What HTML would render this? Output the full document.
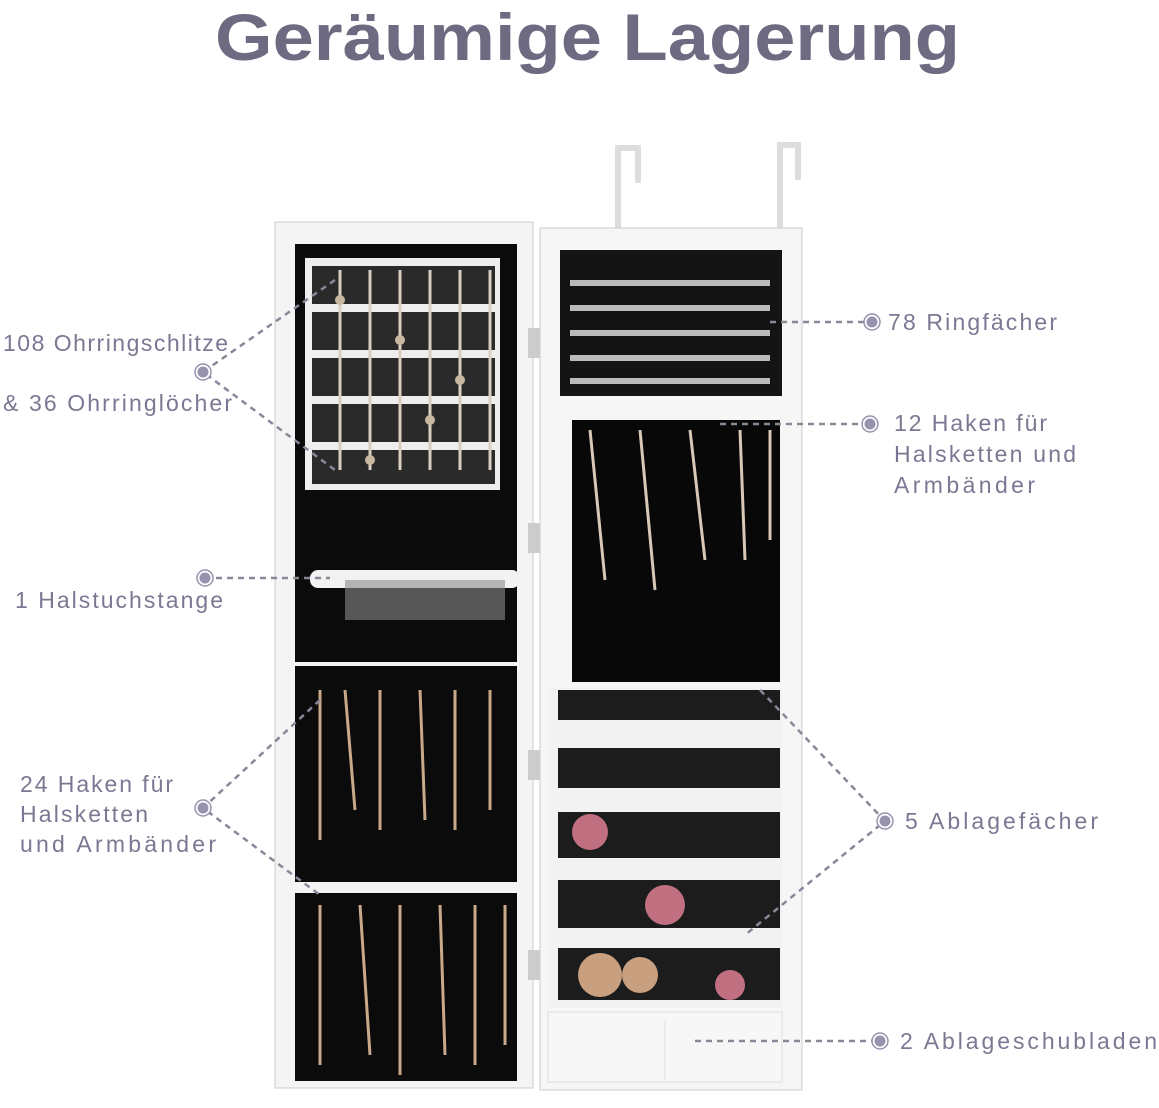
<!DOCTYPE html>
<html><head><meta charset="utf-8"><style>
body{margin:0;background:#fff;}
svg{display:block;font-family:"Liberation Sans",sans-serif;}
</style></head><body>
<svg width="1159" height="1108" viewBox="0 0 1159 1108">
<text x="215" y="60" font-size="66" font-weight="bold" fill="#6e6a82" textLength="745" lengthAdjust="spacingAndGlyphs">Geräumige Lagerung</text>
<path d="M618 250 V148 h20 v35" stroke="#ddd" stroke-width="6" fill="none"/>
<path d="M780 250 V145 h18 v35" stroke="#ddd" stroke-width="6" fill="none"/>
<rect x="275" y="222" width="258" height="866" fill="#f4f4f4" stroke="#ccc"/>
<rect x="295" y="244" width="222" height="418" fill="#0b0b0b"/>
<rect x="305" y="258" width="195" height="232" fill="#eee"/>
<g fill="#2a2a2a"><rect x="312" y="266" width="183" height="38"/><rect x="312" y="312" width="183" height="38"/><rect x="312" y="358" width="183" height="38"/><rect x="312" y="404" width="183" height="38"/><rect x="312" y="450" width="183" height="34"/></g>
<g stroke="#d8cfc0" stroke-width="3" fill="none"><path d="M340 270 v200 M370 270 v200 M400 270 v200 M430 270 v200 M460 270 v200 M490 270 v200"/></g>
<g fill="#c9b8a0"><circle cx="340" cy="300" r="5"/><circle cx="400" cy="340" r="5"/><circle cx="460" cy="380" r="5"/><circle cx="430" cy="420" r="5"/><circle cx="370" cy="460" r="5"/></g>
<rect x="310" y="570" width="210" height="18" rx="8" fill="#f2f2f2"/>
<rect x="345" y="580" width="160" height="40" fill="#8a8a8a" opacity=".6"/>
<rect x="295" y="666" width="222" height="216" fill="#0b0b0b"/>
<rect x="295" y="893" width="222" height="188" fill="#0b0b0b"/>
<g stroke="#c9a98a" stroke-width="3" fill="none"><path d="M320 690 v150 M345 690 l10 120 M380 690 v140 M420 690 l5 130 M455 690 v140 M490 690 v120"/><path d="M320 905 v160 M360 905 l10 150 M400 905 v170 M440 905 l5 150 M475 905 v160 M505 905 v140"/></g>
<g fill="#ccc"><rect x="528" y="328" width="22" height="30"/><rect x="528" y="523" width="22" height="30"/><rect x="528" y="750" width="22" height="30"/><rect x="528" y="950" width="22" height="30"/></g>
<rect x="540" y="228" width="262" height="862" fill="#f6f6f6" stroke="#ccc"/>
<rect x="560" y="250" width="222" height="146" fill="#141414"/>
<g fill="#bbb"><rect x="570" y="280" width="200" height="6"/><rect x="570" y="305" width="200" height="6"/><rect x="570" y="330" width="200" height="6"/><rect x="570" y="355" width="200" height="6"/><rect x="570" y="378" width="200" height="6"/></g>
<rect x="572" y="420" width="208" height="262" fill="#080808"/>
<g stroke="#d8c8b8" stroke-width="3" fill="none"><path d="M590 430 l15 150 M640 430 l15 160 M690 430 l15 130 M740 430 l5 130 M770 430 v110"/></g>
<rect x="548" y="688" width="234" height="320" fill="#f2f2f2"/>
<g fill="#1c1c1c"><rect x="558" y="690" width="222" height="30"/><rect x="558" y="748" width="222" height="40"/><rect x="558" y="812" width="222" height="46"/><rect x="558" y="880" width="222" height="48"/><rect x="558" y="948" width="222" height="52"/></g>
<g fill="#c07080"><circle cx="590" cy="832" r="18"/><circle cx="665" cy="905" r="20"/><circle cx="730" cy="985" r="15"/></g>
<g fill="#c8a080"><circle cx="600" cy="975" r="22"/><circle cx="640" cy="975" r="18"/></g>
<rect x="548" y="1012" width="234" height="70" fill="#f7f7f7" stroke="#ddd"/>
<line x1="665" y1="1020" x2="665" y2="1080" stroke="#ddd"/>
<g stroke="#8a8898" stroke-width="2.5" stroke-dasharray="6,5" fill="none">
<path d="M335 280 L203 372 L335 470"/>
<path d="M770 322 H872"/>
<path d="M720 424 H870"/>
<path d="M205 578 H330"/>
<path d="M320 700 L203 808 L320 895"/>
<path d="M760 690 L885 821 L745 935"/>
<path d="M695 1041 H880"/>
</g>
<g fill="#fff" stroke="#9892ae" stroke-width="1.5">
<circle cx="203" cy="372" r="8"/><circle cx="872" cy="322" r="8"/><circle cx="870" cy="424" r="8"/><circle cx="205" cy="578" r="8"/><circle cx="203" cy="808" r="8"/><circle cx="885" cy="821" r="8"/><circle cx="880" cy="1041" r="8"/>
</g>
<g fill="#9892ae">
<circle cx="203" cy="372" r="5.5"/><circle cx="872" cy="322" r="5.5"/><circle cx="870" cy="424" r="5.5"/><circle cx="205" cy="578" r="5.5"/><circle cx="203" cy="808" r="5.5"/><circle cx="885" cy="821" r="5.5"/><circle cx="880" cy="1041" r="5.5"/>
</g>
<g font-size="23" fill="#7a7892" lengthAdjust="spacingAndGlyphs">
<text x="3" y="351" textLength="225">108 Ohrringschlitze</text>
<text x="3" y="411" textLength="229">&amp; 36 Ohrringlöcher</text>
<text x="888" y="330" textLength="169">78 Ringfächer</text>
<text x="894" y="431" textLength="153">12 Haken für</text>
<text x="894" y="462" textLength="182">Halsketten und</text>
<text x="894" y="493" textLength="141">Armbänder</text>
<text x="15" y="608" textLength="208">1 Halstuchstange</text>
<text x="20" y="792" textLength="153">24 Haken für</text>
<text x="20" y="822" textLength="128">Halsketten</text>
<text x="20" y="852" textLength="196">und Armbänder</text>
<text x="905" y="829" textLength="193">5 Ablagefächer</text>
<text x="900" y="1049" textLength="257">2 Ablageschubladen</text>
</g>
</svg>
</body></html>
